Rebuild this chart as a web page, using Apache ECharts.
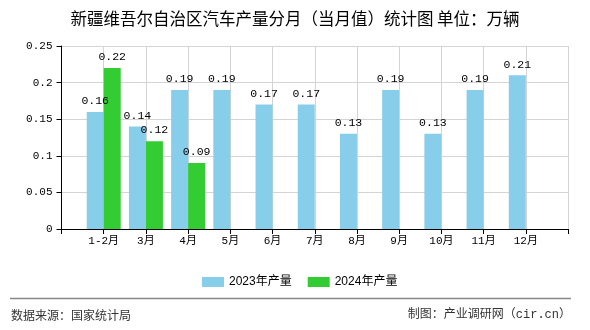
<!DOCTYPE html>
<html>
<head>
<meta charset="utf-8">
<script src="https://cdn.jsdelivr.net/npm/echarts@6/dist/echarts.min.js"></script>
<style>
html,body{margin:0;padding:0;background:#fff;}
#main{width:590px;height:330px;}
</style>
</head>
<body>
<div id="main"></div>
<script>
var categories = ['1-2月','3月','4月','5月','6月','7月','8月','9月','10月','11月','12月'];
var values2023 = [0.16,0.14,0.19,0.19,0.17,0.17,0.13,0.19,0.13,0.19,0.21];
var values2024 = [0.22,0.12,0.09];
var yTicks = [0,0.05,0.1,0.15,0.2,0.25];
var seriesNames = ['2023年产量','2024年产量'];

var axisCats = [''].concat(categories).concat(['']);
function pad(arr){
  var out = ['-'];
  for (var i = 0; i < categories.length; i++) out.push(i < arr.length ? arr[i] : '-');
  out.push('-');
  return out;
}
var monoFont = '"Liberation Mono","Noto Sans CJK SC",monospace';
var chart = echarts.init(document.getElementById('main'), null, {renderer:'canvas'});
var labelStyle = {show:true, position:'top', distance:5, color:'#000', fontSize:11.5, fontFamily:monoFont,
  formatter:function(p){return p.value;}};
chart.setOption({
  animation:false,
  backgroundColor:'#fff',
  title:{
    text:'新疆维吾尔自治区汽车产量分月（当月值）统计图 单位：万辆',
    left:'center', top:5,
    textStyle:{fontSize:16.5, fontWeight:'normal', color:'#000', fontFamily:'"Noto Sans CJK SC",sans-serif'}
  },
  legend:{
    left:197, top:271,
    itemWidth:22, itemHeight:10, itemGap:16,
    icon:'rect',
    textStyle:{fontSize:12, color:'#000', fontFamily:'"Liberation Sans","Noto Sans CJK SC",sans-serif'},
    data:seriesNames
  },
  grid:{left:61.5, right:22, top:46, bottom:101, containLabel:false},
  xAxis:{
    type:'category',
    data:axisCats,
    boundaryGap:false,
    axisLine:{lineStyle:{color:'#000', width:1}},
    axisTick:{show:true, length:5, lineStyle:{color:'#000'}, alignWithLabel:true},
    axisLabel:{color:'#000', fontSize:11, fontFamily:monoFont, margin:7, interval:0},
    splitLine:{show:true, lineStyle:{color:'#d4d4d4', width:1}}
  },
  yAxis:{
    type:'value',
    min:yTicks[0], max:yTicks[yTicks.length-1], interval:0.05,
    axisLine:{show:true, lineStyle:{color:'#000', width:1}},
    axisTick:{show:true, length:5, lineStyle:{color:'#000'}},
    axisLabel:{color:'#000', fontSize:11, fontFamily:monoFont, margin:9,
      formatter:function(v){return String(Math.round(v*100)/100);}},
    splitLine:{show:true, lineStyle:{color:'#d4d4d4', width:1}}
  },
  series:[
    {name:seriesNames[0], type:'bar', data:pad(values2023), barWidth:17, barGap:'0%',
     itemStyle:{color:'#87CEEB'}, label:labelStyle},
    {name:seriesNames[1], type:'bar', data:pad(values2024), barWidth:17, barGap:'0%',
     itemStyle:{color:'#33CC33'}, label:labelStyle}
  ],
  graphic:[
    {type:'line', shape:{x1:10, y1:298.5, x2:571, y2:298.5}, style:{stroke:'#888', lineWidth:1.5}},
    {type:'text', left:11, top:309, style:{text:'数据来源：国家统计局', fontSize:12, fill:'#333', fontFamily:'"Noto Sans CJK SC",sans-serif'}},
    {type:'text', right:19, top:309, style:{text:'制图：产业调研网（cir.cn）', fontSize:12, fill:'#333', fontFamily:monoFont}}
  ]
});
</script>
</body>
</html>
